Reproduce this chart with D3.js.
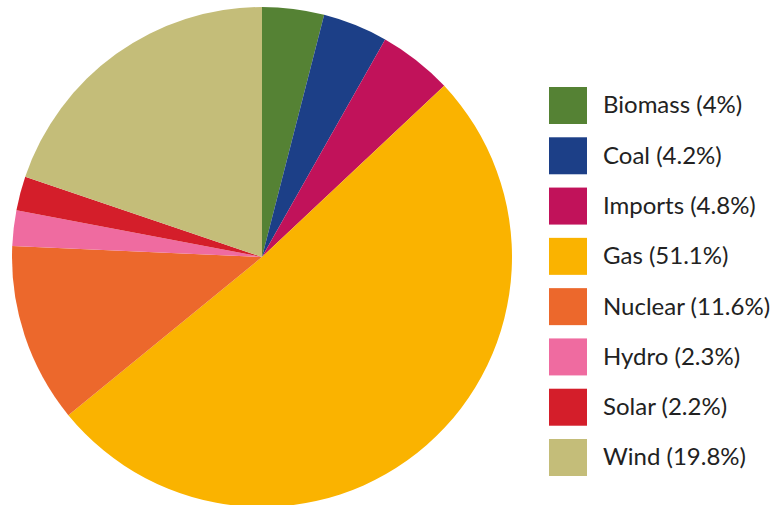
<!DOCTYPE html>
<html>
<head>
<meta charset="utf-8">
<script src="https://cdn.jsdelivr.net/npm/d3@7/dist/d3.min.js"></script>
<style>
  html, body { margin: 0; padding: 0; background: #fff; }
  svg { display: block; }
</style>
</head>
<body>
<svg id="chart" width="771" height="505"></svg>
<script>
// Electricity generation mix by source
const sources = ["Biomass", "Coal", "Imports", "Gas", "Nuclear", "Hydro", "Solar", "Wind"];
const shares = [4, 4.2, 4.8, 51.1, 11.6, 2.3, 2.2, 19.8];
const labels = ["Biomass (4%)", "Coal (4.2%)", "Imports (4.8%)", "Gas (51.1%)",
                "Nuclear (11.6%)", "Hydro (2.3%)", "Solar (2.2%)", "Wind (19.8%)"];
const colors = ["#558234", "#1c3f87", "#c1125a", "#fab300", "#ec682c", "#ef6ba0", "#d41e2a", "#c4bd79"];

const data = sources.map((s, i) => ({ source: s, value: shares[i], label: labels[i], color: colors[i] }));

const svg = d3.select("#chart");
const cx = 262, cy = 257, radius = 250;

const pie = d3.pie().sort(null).value(d => d.value);
const arc = d3.arc().innerRadius(0).outerRadius(radius);

svg.append("g")
  .attr("transform", `translate(${cx},${cy})`)
  .selectAll("path")
  .data(pie(data))
  .join("path")
  .attr("d", arc)
  .attr("fill", d => d.data.color);

// Legend
const legendY = d3.scalePoint().domain(sources).range([87, 439]);
const legend = svg.append("g")
  .selectAll("g")
  .data(data)
  .join("g")
  .attr("transform", d => `translate(549,${legendY(d.source)})`);

legend.append("rect")
  .attr("width", 38)
  .attr("height", 37)
  .attr("fill", d => d.color);

legend.append("text")
  .attr("x", 54)
  .attr("y", 18)
  .attr("dy", "0.35em")
  .attr("fill", "#222")
  .style("font-family", "Lato, 'Open Sans', sans-serif")
  .style("font-size", "24px")
  .text(d => d.label);
</script>
</body>
</html>
